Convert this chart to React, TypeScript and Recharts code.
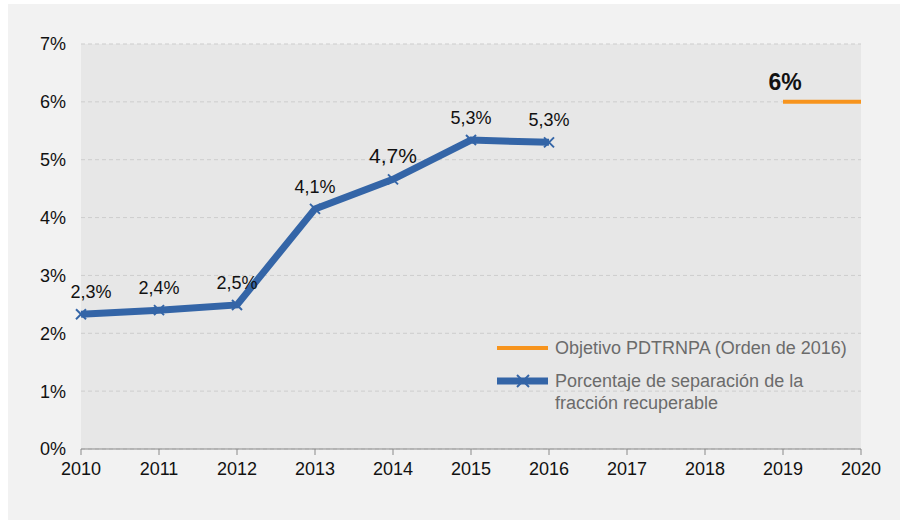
import React from 'react';
import {
  ComposedChart,
  Line,
  XAxis,
  YAxis,
  CartesianGrid,
  LabelList,
} from 'recharts';

const years = [2010, 2011, 2012, 2013, 2014, 2015, 2016, 2017, 2018, 2019, 2020];
const separation = [2.33, 2.4, 2.49, 4.15, 4.66, 5.34, 5.3, null, null, null, null];
const separationLabels = ['2,3%', '2,4%', '2,5%', '4,1%', '4,7%', '5,3%', '5,3%', '', '', '', ''];
const objective = [null, null, null, null, null, null, null, null, null, 6, 6];
const objectiveLabels = ['', '', '', '', '', '', '', '', '', '6%', ''];
const yTicks = [0, 1, 2, 3, 4, 5, 6, 7];

const BLUE = '#3465a7';
const ORANGE = '#f7941d';
const FONT = '"Liberation Sans Narrow", "Liberation Sans", Arial, sans-serif';

const data = years.map((year, i) => ({
  year,
  separation: separation[i],
  sepLabel: separationLabels[i],
  objective: objective[i],
  objLabel: objectiveLabels[i],
}));

// small "x" marker like the original spreadsheet chart
const CrossDot = (props: any) => {
  const { cx, cy } = props;
  if (cx == null || cy == null || props.value == null) return null;
  const s = 5;
  return (
    <g stroke={BLUE} strokeWidth={2}>
      <line x1={cx - s} y1={cy - s} x2={cx + s} y2={cy + s} />
      <line x1={cx - s} y1={cy + s} x2={cx + s} y2={cy - s} />
    </g>
  );
};

const SepLabel = (props: any) => {
  const { x, y, value, index } = props;
  if (!value) return null;
  const big = value === '4,7%';
  return (
    <text
      x={x + (index === 0 ? 10 : 0)}
      y={y - 16}
      textAnchor="middle"
      fontSize={big ? 21 : 18}
      fill="#111"
      fontFamily={FONT}
    >
      {value}
    </text>
  );
};

const ObjLabel = (props: any) => {
  const { x, y, value } = props;
  if (!value) return null;
  return (
    <text x={x + 2} y={y - 12} textAnchor="middle" fontSize={23} fontWeight="bold" fill="#111" fontFamily={FONT}>
      {value}
    </text>
  );
};

const LegendBox = () => (
  <div
    style={{
      position: 'absolute',
      left: 489,
      top: 333,
      fontFamily: FONT,
      fontSize: 18,
      color: '#6b6b6b',
      lineHeight: '22px',
    }}
  >
    <div style={{ display: 'flex', alignItems: 'flex-start', marginBottom: 11 }}>
      <svg width={58} height={22}>
        <line x1={0} y1={11} x2={51} y2={11} stroke={ORANGE} strokeWidth={4} />
      </svg>
      <span>Objetivo PDTRNPA (Orden de 2016)</span>
    </div>
    <div style={{ display: 'flex', alignItems: 'flex-start' }}>
      <svg width={58} height={22}>
        <line x1={0} y1={11} x2={51} y2={11} stroke={BLUE} strokeWidth={7} />
        <g stroke={BLUE} strokeWidth={2}>
          <line x1={20} y1={5} x2={32} y2={17} />
          <line x1={20} y1={17} x2={32} y2={5} />
        </g>
      </svg>
      <span>
        Porcentaje de separación de la
        <br />
        fracción recuperable
      </span>
    </div>
  </div>
);

export default function App() {
  return (
    <div style={{ position: 'absolute', left: 8, top: 4, width: 892, height: 516, background: '#f2f2f2' }}>
      <style>{'body{margin:0}'}</style>
      <ComposedChart
        width={892}
        height={516}
        data={data}
        margin={{ top: 40, right: 39, bottom: 0, left: 0 }}
        style={{ fontFamily: FONT }}
      >
        <CartesianGrid
          vertical={false}
          stroke="#cdcdcd"
          strokeDasharray="4 3"
          fill="#e7e7e7"
        />
        <XAxis
          dataKey="year"
          type="number"
          domain={[2010, 2020]}
          ticks={years}
          height={71}
          axisLine={{ stroke: '#8a8a8a' }}
          tickLine={{ stroke: '#8a8a8a' }}
          tickSize={6}
          tickMargin={7}
          tick={{ fill: '#111', fontSize: 18, fontFamily: FONT }}
        />
        <YAxis
          domain={[0, 7]}
          ticks={yTicks}
          width={73}
          axisLine={false}
          tickLine={false}
          tickMargin={9}
          tickFormatter={(v) => `${v}%`}
          tick={{ fill: '#111', fontSize: 18, fontFamily: FONT }}
        />
        <Line
          dataKey="objective"
          stroke={ORANGE}
          strokeWidth={4}
          dot={false}
          activeDot={false}
          isAnimationActive={false}
        >
          <LabelList dataKey="objLabel" content={<ObjLabel />} />
        </Line>
        <Line
          dataKey="separation"
          stroke={BLUE}
          strokeWidth={7}
          dot={<CrossDot />}
          activeDot={false}
          isAnimationActive={false}
        >
          <LabelList dataKey="sepLabel" content={<SepLabel />} />
        </Line>
      </ComposedChart>
      <LegendBox />
    </div>
  );
}
